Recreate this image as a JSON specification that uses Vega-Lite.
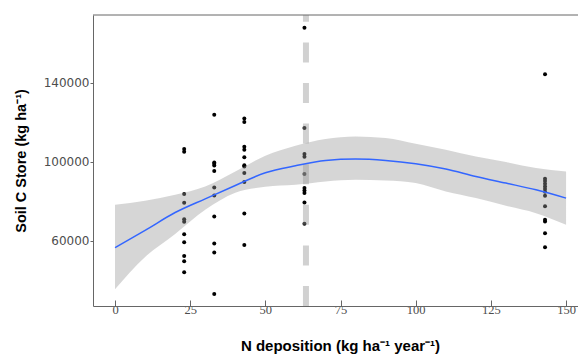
{
  "$schema": "https://vega.github.io/schema/vega-lite/v6.json",
  "width": 485,
  "height": 291,
  "autosize": "none",
  "padding": {"left": 93, "top": 15, "right": 0, "bottom": 49},
  "config": {"view": {"stroke": null}, "font": "Liberation Sans"},
  "datasets": {
    "pts": [
      {"n": 23, "c": 106430}, {"n": 23, "c": 105063}, {"n": 23, "c": 83646}, {"n": 23, "c": 79242},
      {"n": 23, "c": 70990}, {"n": 23, "c": 69622}, {"n": 23, "c": 63395}, {"n": 23, "c": 59344},
      {"n": 23, "c": 52408}, {"n": 23, "c": 49724}, {"n": 23, "c": 44155},
      {"n": 33, "c": 123796}, {"n": 33, "c": 99646}, {"n": 33, "c": 98987}, {"n": 33, "c": 98127},
      {"n": 33, "c": 95291}, {"n": 33, "c": 86988}, {"n": 33, "c": 82937}, {"n": 33, "c": 72305},
      {"n": 33, "c": 58635}, {"n": 33, "c": 54078}, {"n": 33, "c": 33168},
      {"n": 43, "c": 121923}, {"n": 43, "c": 120100}, {"n": 43, "c": 107595}, {"n": 43, "c": 106076},
      {"n": 43, "c": 102278}, {"n": 43, "c": 98228}, {"n": 43, "c": 97620}, {"n": 43, "c": 94279},
      {"n": 43, "c": 89773}, {"n": 43, "c": 73824}, {"n": 43, "c": 57977},
      {"n": 63, "c": 167692}, {"n": 63, "c": 117062}, {"n": 63, "c": 103899}, {"n": 63, "c": 102532},
      {"n": 63, "c": 93773}, {"n": 63, "c": 86684}, {"n": 63, "c": 85469}, {"n": 63, "c": 84153},
      {"n": 63, "c": 79394}, {"n": 63, "c": 68609},
      {"n": 143, "c": 144200}, {"n": 143, "c": 91393}, {"n": 143, "c": 90228}, {"n": 143, "c": 88861},
      {"n": 143, "c": 87495}, {"n": 143, "c": 86178}, {"n": 143, "c": 84811}, {"n": 143, "c": 82786},
      {"n": 143, "c": 77571}, {"n": 143, "c": 70635}, {"n": 143, "c": 69774}, {"n": 143, "c": 63901},
      {"n": 143, "c": 56813}
    ],
    "fit": [
      {"n": 0, "fit": 56610, "lo": 35548, "hi": 78229},
      {"n": 10, "fit": 65318, "lo": 51901, "hi": 80254},
      {"n": 20, "fit": 74331, "lo": 63546, "hi": 83292},
      {"n": 30, "fit": 81267, "lo": 75698, "hi": 87495},
      {"n": 40, "fit": 88001, "lo": 84305, "hi": 95089},
      {"n": 50, "fit": 94431, "lo": 87343, "hi": 103038},
      {"n": 60, "fit": 97975, "lo": 88355, "hi": 108101},
      {"n": 70, "fit": 100658, "lo": 90026, "hi": 111493},
      {"n": 80, "fit": 101367, "lo": 90887, "hi": 112809},
      {"n": 90, "fit": 100658, "lo": 90532, "hi": 111999},
      {"n": 100, "fit": 98987, "lo": 89216, "hi": 109113},
      {"n": 110, "fit": 96304, "lo": 84963, "hi": 106076},
      {"n": 120, "fit": 92557, "lo": 81622, "hi": 102683},
      {"n": 130, "fit": 89216, "lo": 77723, "hi": 99848},
      {"n": 140, "fit": 85824, "lo": 74027, "hi": 96810},
      {"n": 150, "fit": 81622, "lo": 68103, "hi": 95089}
    ],
    "vline": [{"n": 63.5}]
  },
  "layer": [
    {
      "data": {"name": "pts"},
      "mark": {"type": "circle", "size": 16, "color": "black", "opacity": 1},
      "encoding": {
        "x": {
          "field": "n", "type": "quantitative",
          "scale": {"domain": [-7.32, 153.97], "nice": false, "zero": false},
          "axis": {
            "values": [0, 25, 50, 75, 100, 125, 150],
            "title": "N deposition (kg ha⁻¹ year⁻¹)",
            "grid": false, "labelFlush": false,
            "domainColor": "#666666", "tickColor": "#666666", "tickSize": -6,
            "labelFont": "Liberation Sans Narrow", "labelFontSize": 12.5, "labelColor": "#4d4d4d", "labelPadding": 3,
            "titleFont": "Liberation Sans", "titleFontWeight": "bold", "titleFontSize": 15, "titleColor": "black",
            "titleX": 247, "titleY": 44, "titleBaseline": "alphabetic", "titleAlign": "center"
          }
        },
        "y": {
          "field": "c", "type": "quantitative",
          "scale": {"domain": [27093, 174173], "nice": false, "zero": false},
          "axis": {
            "values": [60000, 100000, 140000], "format": "d",
            "title": "Soil C Store (kg ha⁻¹)",
            "grid": false,
            "domainColor": "#666666", "tickColor": "#666666", "tickSize": 3,
            "labelFont": "DejaVu Sans", "labelFontSize": 12, "labelColor": "#4d4d4d", "labelPadding": 1,
            "titleFont": "Liberation Sans", "titleFontWeight": "bold", "titleFontSize": 14.5, "titleColor": "black",
            "titleX": -72, "titleY": 145.5, "titleAngle": 270, "titleBaseline": "middle", "titleAlign": "center"
          }
        }
      }
    },
    {
      "data": {"name": "fit"},
      "mark": {"type": "area", "color": "#999999", "opacity": 0.4, "interpolate": "monotone"},
      "encoding": {
        "x": {"field": "n", "type": "quantitative"},
        "y": {"field": "lo", "type": "quantitative"},
        "y2": {"field": "hi"}
      }
    },
    {
      "data": {"name": "vline"},
      "mark": {"type": "rule", "color": "#999999", "opacity": 0.45, "strokeWidth": 6, "strokeDash": [20, 20.6]},
      "encoding": {
        "x": {"field": "n", "type": "quantitative"},
        "y": {"datum": 27093},
        "y2": {"datum": 174173}
      }
    },
    {
      "data": {"name": "fit"},
      "mark": {"type": "line", "color": "#3366FF", "strokeWidth": 1.5, "interpolate": "monotone"},
      "encoding": {
        "x": {"field": "n", "type": "quantitative"},
        "y": {"field": "fit", "type": "quantitative"}
      }
    },
    {
      "data": {"name": "vline"},
      "mark": {"type": "rule", "color": "#666666", "strokeWidth": 1},
      "encoding": {
        "y": {"datum": 174173}
      }
    }
  ]
}
